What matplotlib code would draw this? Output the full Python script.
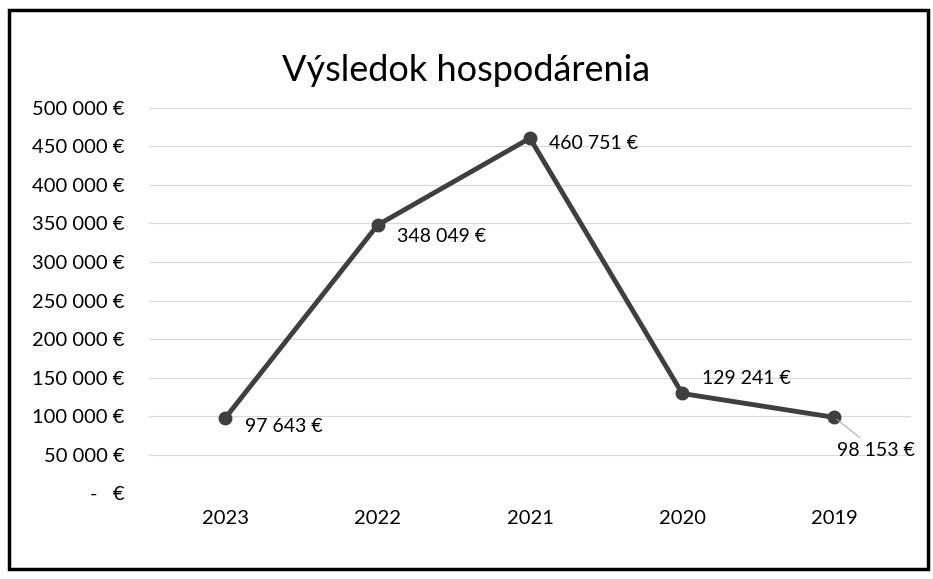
import matplotlib.pyplot as plt
from matplotlib.patches import Rectangle
from matplotlib.ticker import FuncFormatter

plt.rcParams['font.family'] = ['Lato', 'DejaVu Sans']

# values from the chart
years = ['2023', '2022', '2021', '2020', '2019']
result = [97643, 348049, 460751, 129241, 98153]
y_ticks = [0, 50000, 100000, 150000, 200000, 250000, 300000, 350000, 400000, 450000, 500000]


def eur(v, pos=None):
    if v == 0:
        return '-   €'
    return f'{int(v):,} €'.replace(',', ' ')


fig = plt.figure(figsize=(9.33, 5.79), dpi=100)
ax = fig.add_axes([0.16, 0.1485, 0.816, 0.665])

# outer frame of the chart
fig.patches.append(Rectangle((0.01, 0.017), 0.985, 0.965, transform=fig.transFigure,
                             fill=False, edgecolor='black', linewidth=2.5))

x = range(len(years))
ax.plot(x, result, color='#3f3f3f', linewidth=3.5, marker='o', markersize=9,
        markerfacecolor='#3f3f3f', markeredgecolor='#3f3f3f', zorder=3)

# data labels (last two sit away from the point, with a thin leader line)
offsets = [(14, -6), (14, -8), (14, -4), (14, 11), (2, -24)]
for i, v in enumerate(result):
    leader = dict(arrowstyle='-', color='#a6a6a6', lw=0.7) if i == 4 else None
    ax.annotate(eur(v), (i, v), xytext=offsets[i], textcoords='offset points',
                ha='left', va='center', fontsize=14, color='black',
                arrowprops=leader)

ax.set_xlim(-0.5, len(years) - 0.5)
ax.set_ylim(0, 500000)
ax.set_xticks(list(x))
ax.set_xticklabels(years)
ax.set_yticks(y_ticks)
ax.yaxis.set_major_formatter(FuncFormatter(eur))
ax.grid(axis='y', color='#d9d9d9', linewidth=0.8)
ax.set_axisbelow(True)
for s in ax.spines.values():
    s.set_visible(False)
ax.tick_params(length=0, labelsize=14.5, colors='black')
ax.tick_params(axis='y', pad=18)
ax.tick_params(axis='x', pad=12)

fig.text(0.5, 0.878, 'Výsledok hospodárenia', ha='center', va='center', fontsize=26)

fig.savefig('out.png', dpi=100)
